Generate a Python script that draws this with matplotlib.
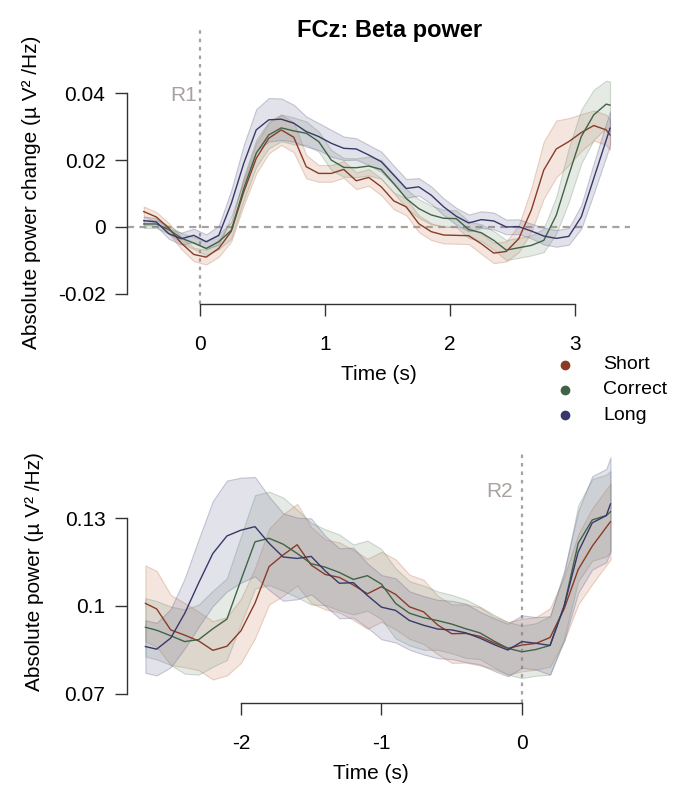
import matplotlib
matplotlib.use("Agg")
import matplotlib.pyplot as plt
from matplotlib.colors import to_rgba
from matplotlib.lines import Line2D

plt.rcParams["font.family"] = ["Liberation Sans", "DejaVu Sans"]

# ---- top panel: locked to R1 ----
t_top = [-0.45, -0.35, -0.25, -0.15, -0.05, 0.05, 0.15, 0.25, 0.35, 0.45,
         0.55, 0.65, 0.75, 0.85, 0.95, 1.05, 1.15, 1.25, 1.35, 1.45,
         1.55, 1.65, 1.75, 1.85, 1.95, 2.05, 2.15, 2.25, 2.35, 2.45,
         2.55, 2.65, 2.75, 2.85, 2.95, 3.05, 3.15, 3.25, 3.28]

short_top = [0.0046, 0.0030, -0.0003, -0.0048, -0.0082, -0.0090, -0.0064, -0.0013, 0.0105, 0.0205,
             0.0265, 0.0290, 0.0268, 0.0180, 0.0160, 0.0160, 0.0172, 0.0138, 0.0148, 0.0120,
             0.0078, 0.0060, 0.0010, -0.0014, -0.0024, -0.0025, -0.0026, -0.0050, -0.0078, -0.0073,
             -0.0035, 0.0050, 0.0170, 0.0233, 0.0255, 0.0282, 0.0303, 0.0290, 0.0275]
correct_top = [0.0009, 0.0009, -0.0008, -0.0033, -0.0048, -0.0064, -0.0044, -0.0010, 0.0115, 0.0220,
               0.0275, 0.0296, 0.0287, 0.0280, 0.0255, 0.0200, 0.0178, 0.0177, 0.0182, 0.0172,
               0.0130, 0.0085, 0.0055, 0.0036, 0.0026, 0.0025, -0.0008, -0.0017, -0.0040, -0.0069,
               -0.0062, -0.0055, -0.0040, 0.0035, 0.0155, 0.0270, 0.0335, 0.0367, 0.0364]
long_top = [0.0019, 0.0015, -0.0020, -0.0035, -0.0025, -0.0044, -0.0025, 0.0070, 0.0190, 0.0290,
            0.0320, 0.0322, 0.0310, 0.0285, 0.0270, 0.0250, 0.0235, 0.0233, 0.0215, 0.0195,
            0.0155, 0.0115, 0.0120, 0.0095, 0.0060, 0.0032, 0.0012, 0.0022, 0.0018, 0.0000,
            0.0001, -0.0012, -0.0027, -0.0034, -0.0028, 0.0030, 0.0145, 0.0260, 0.0295]

short_top_err = [0.0015, 0.0015, 0.0015, 0.0018, 0.0020, 0.0022, 0.0025, 0.0030, 0.0040, 0.0045,
                 0.0045, 0.0045, 0.0045, 0.0035, 0.0025, 0.0025, 0.0025, 0.0025, 0.0025, 0.0025,
                 0.0025, 0.0025, 0.0025, 0.0025, 0.0025, 0.0025, 0.0025, 0.0030, 0.0030, 0.0030,
                 0.0040, 0.0065, 0.0085, 0.0085, 0.0070, 0.0055, 0.0045, 0.0045, 0.0045]
correct_top_err = [0.0012, 0.0012, 0.0012, 0.0015, 0.0018, 0.0020, 0.0022, 0.0025, 0.0035, 0.0040,
                   0.0040, 0.0040, 0.0040, 0.0035, 0.0030, 0.0030, 0.0028, 0.0028, 0.0028, 0.0028,
                   0.0028, 0.0028, 0.0028, 0.0028, 0.0025, 0.0025, 0.0025, 0.0025, 0.0028, 0.0030,
                   0.0030, 0.0030, 0.0035, 0.0055, 0.0080, 0.0080, 0.0075, 0.0070, 0.0070]
long_top_err = [0.0012, 0.0012, 0.0015, 0.0018, 0.0020, 0.0022, 0.0028, 0.0040, 0.0055, 0.0062,
                0.0065, 0.0062, 0.0055, 0.0045, 0.0040, 0.0040, 0.0035, 0.0032, 0.0030, 0.0030,
                0.0028, 0.0028, 0.0026, 0.0026, 0.0025, 0.0025, 0.0025, 0.0025, 0.0025, 0.0022,
                0.0022, 0.0022, 0.0025, 0.0025, 0.0025, 0.0035, 0.0045, 0.0050, 0.0050]

# ---- bottom panel: locked to R2 ----
t_bot = [-2.68, -2.6, -2.5, -2.4, -2.3, -2.2, -2.1, -2.0, -1.9, -1.8,
         -1.7, -1.6, -1.5, -1.4, -1.3, -1.2, -1.1, -1.0, -0.9, -0.8,
         -0.7, -0.6, -0.5, -0.4, -0.3, -0.2, -0.1, 0.0, 0.1, 0.2,
         0.3, 0.4, 0.5, 0.6, 0.63]

short_bot = [0.1009, 0.0990, 0.0918, 0.0900, 0.0880, 0.0848, 0.0862, 0.0915, 0.1010, 0.1135,
             0.1175, 0.1210, 0.1140, 0.1108, 0.1098, 0.1072, 0.1042, 0.1066, 0.1040, 0.0997,
             0.0980, 0.0935, 0.0905, 0.0906, 0.0896, 0.0874, 0.0855, 0.0866, 0.0872, 0.0892,
             0.0990, 0.1125, 0.1205, 0.1270, 0.1289]
correct_bot = [0.0927, 0.0917, 0.0898, 0.0878, 0.0885, 0.0922, 0.0955, 0.1089, 0.1220, 0.1232,
               0.1212, 0.1180, 0.1145, 0.1133, 0.1115, 0.1091, 0.1104, 0.1075, 0.1009, 0.0975,
               0.0960, 0.0950, 0.0938, 0.0922, 0.0908, 0.0880, 0.0855, 0.0843, 0.0851, 0.0865,
               0.1000, 0.1215, 0.1295, 0.1310, 0.1323]
long_bot = [0.0861, 0.0852, 0.0890, 0.0975, 0.1080, 0.1180, 0.1240, 0.1260, 0.1272, 0.1215,
            0.1168, 0.1163, 0.1170, 0.1120, 0.1078, 0.1080, 0.1036, 0.0996, 0.0985, 0.0950,
            0.0934, 0.0921, 0.0918, 0.0908, 0.0890, 0.0868, 0.0849, 0.0878, 0.0872, 0.0865,
            0.1000, 0.1185, 0.1285, 0.1310, 0.1350]

short_bot_err = [0.013, 0.013, 0.012, 0.011, 0.010, 0.010, 0.010, 0.011, 0.012, 0.013,
                 0.014, 0.014, 0.013, 0.012, 0.012, 0.012, 0.012, 0.012, 0.012, 0.011,
                 0.011, 0.010, 0.010, 0.010, 0.010, 0.009, 0.009, 0.009, 0.009, 0.010,
                 0.011, 0.012, 0.013, 0.013, 0.013]
correct_bot_err = [0.010, 0.010, 0.010, 0.011, 0.012, 0.013, 0.014, 0.015, 0.016, 0.016,
                   0.016, 0.015, 0.014, 0.013, 0.013, 0.012, 0.012, 0.012, 0.012, 0.011,
                   0.011, 0.010, 0.010, 0.010, 0.009, 0.009, 0.009, 0.009, 0.009, 0.010,
                   0.011, 0.013, 0.014, 0.014, 0.014]
long_bot_err = [0.009, 0.009, 0.010, 0.012, 0.015, 0.018, 0.019, 0.018, 0.017, 0.016,
                0.015, 0.014, 0.013, 0.012, 0.012, 0.012, 0.011, 0.011, 0.011, 0.010,
                0.010, 0.010, 0.010, 0.010, 0.009, 0.009, 0.009, 0.009, 0.009, 0.010,
                0.012, 0.014, 0.016, 0.016, 0.016]

names = ["Short", "Correct", "Long"]
line_colors = ["#8a3b26", "#3f6445", "#38386a"]
fill_colors = ["#c8845f", "#7f9a80", "#6e6e98"]
ref_grey = "#a9a19f"
spine_col = "#333333"

fig = plt.figure(figsize=(6.83, 7.89), dpi=100)


def draw_panel(ax, t, means, errs):
    # bands first, then the mean lines on top
    for m, e, fc in zip(means, errs, fill_colors):
        lo = [a - b for a, b in zip(m, e)]
        hi = [a + b for a, b in zip(m, e)]
        ax.fill_between(t, lo, hi, facecolor=to_rgba(fc, 0.2),
                        edgecolor=to_rgba(fc, 0.35), lw=0.8, zorder=2)
    for m, lc in zip(means, line_colors):
        ax.plot(t, m, color=lc, lw=1.0, zorder=3, solid_joinstyle="round")


def style_axes(ax):
    for s in ["top", "right"]:
        ax.spines[s].set_visible(False)
    for s in ["left", "bottom"]:
        ax.spines[s].set_color(spine_col)
        ax.spines[s].set_linewidth(1.0)
    ax.tick_params(direction="out", length=8.5, width=1.0, color=spine_col,
                   labelsize=15)
    ax.tick_params(axis="x", pad=14)
    ax.tick_params(axis="y", pad=7)
    ax.set_facecolor("none")


# top panel
ax1 = fig.add_axes([127 / 683, 1 - 304 / 789, 503 / 683, 224 / 789])
ax1.set_xlim(-0.584, 3.44)
ax1.set_ylim(-0.023, 0.0439)
draw_panel(ax1, t_top, [short_top, correct_top, long_top],
           [short_top_err, correct_top_err, long_top_err])
ax1.axhline(0, color=ref_grey, lw=1.6, ls=(0, (3.2, 2.4)), zorder=1)
ax1.plot([0, 0], [-0.023, 0.0597], color=ref_grey, lw=1.6,
         ls=(0, (1.6, 2.2)), clip_on=False, zorder=1)
ax1.text(-0.02, 0.0393, "R1", color=ref_grey, fontsize=15, ha="right",
         va="center")
style_axes(ax1)
ax1.spines["left"].set_bounds(-0.02, 0.04)
ax1.spines["bottom"].set_bounds(0, 3)
ax1.set_xticks([0, 1, 2, 3])
ax1.set_xticklabels(["0", "1", "2", "3"])
ax1.set_yticks([-0.02, 0, 0.02, 0.04])
ax1.set_yticklabels(["-0.02", "0", "0.02", "0.04"])
ax1.set_ylabel("Absolute power change (µ V² /Hz)", fontsize=15, labelpad=12)
ax1.set_xlabel("Time (s)", fontsize=15, labelpad=8)

# bottom panel
ax2 = fig.add_axes([127 / 683, 1 - 703 / 789, 488 / 683, 263 / 789])
ax2.set_xlim(-2.811, 0.662)
ax2.set_ylim(0.06675, 0.1569)
draw_panel(ax2, t_bot, [short_bot, correct_bot, long_bot],
           [short_bot_err, correct_bot_err, long_bot_err])
ax2.plot([0, 0], [0.06675, 0.1525], color=ref_grey, lw=1.6,
         ls=(0, (1.6, 2.2)), zorder=1)
ax2.text(-0.065, 0.1394, "R2", color=ref_grey, fontsize=15, ha="right",
         va="center")
style_axes(ax2)
ax2.spines["left"].set_bounds(0.07, 0.13)
ax2.spines["bottom"].set_bounds(-2, 0)
ax2.set_xticks([-2, -1, 0])
ax2.set_xticklabels(["-2", "-1", "0"])
ax2.set_yticks([0.07, 0.1, 0.13])
ax2.set_yticklabels(["0.07", "0.1", "0.13"])
ax2.set_ylabel("Absolute power (µ V² /Hz)", fontsize=15, labelpad=15)
ax2.set_xlabel("Time (s)", fontsize=15, labelpad=8)

# title
fig.text(390 / 683, 1 - 30 / 789, "FCz: Beta power", fontsize=17,
         fontweight="bold", ha="center", va="center")

# legend (dots + names)
for name, lc, y in zip(names, line_colors, [365, 390, 415]):
    fig.add_artist(Line2D([565 / 683], [1 - y / 789], marker="o",
                          markersize=6, color=lc, ls="none",
                          transform=fig.transFigure))
    fig.text(603 / 683, 1 - y / 789, name, fontsize=14, va="center",
             ha="left")

fig.savefig("out.png", dpi=100)
